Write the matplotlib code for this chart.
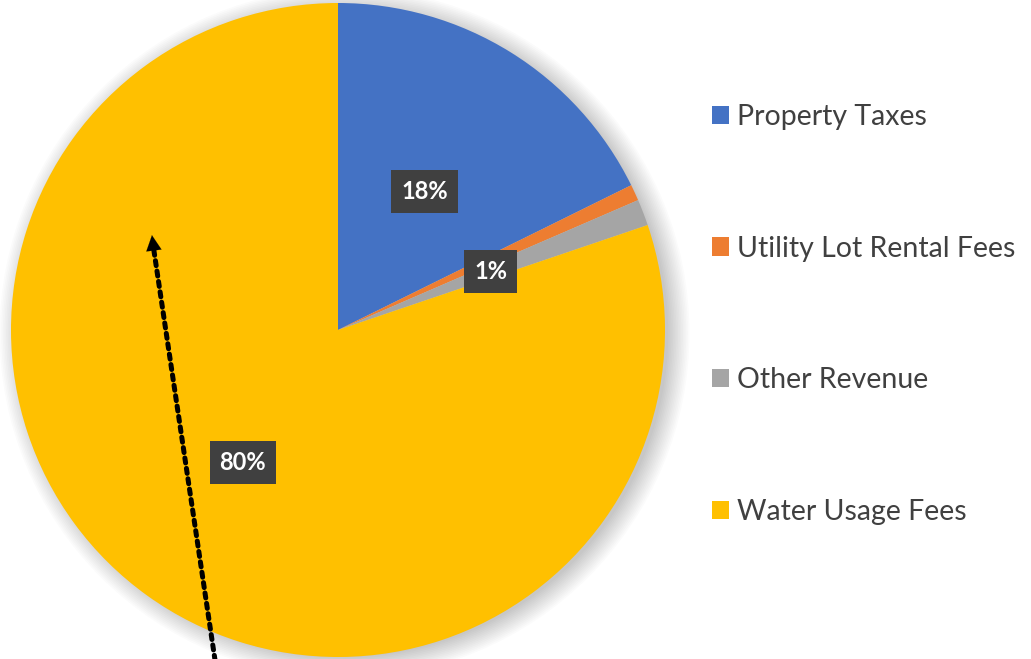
import matplotlib
matplotlib.use("Agg")
import matplotlib.pyplot as plt
from matplotlib.patches import Circle, Patch

# revenue shares
labels = ['Property Taxes', 'Utility Lot Rental Fees', 'Other Revenue', 'Water Usage Fees']
values = [17.7, 0.8, 1.3, 80.2]
colors = ['#4472C4', '#ED7D31', '#A5A5A5', '#FFC000']

plt.rcParams['font.family'] = ['Lato', 'DejaVu Sans']

fig = plt.figure(figsize=(10.31, 6.59), dpi=100)
ax = fig.add_axes([11 / 1031, 2 / 659, 654 / 1031, 654 / 659])

wedges, texts, autotexts = ax.pie(values, colors=colors, startangle=90, counterclock=False,
                                  autopct='%1.0f%%', pctdistance=0.5, radius=1.0,
                                  wedgeprops=dict(linewidth=0),
                                  textprops=dict(color='white', fontsize=17, fontweight='bold'))
ax.set_xlim(-1, 1)
ax.set_ylim(-1, 1)
ax.set_aspect('equal')
ax.axis('off')

# soft drop shadow behind the pie
for k in range(14):
    ax.add_patch(Circle((0.02, -0.01), 0.99 + k * 0.005, color='black',
                        alpha=0.016, lw=0, zorder=0, clip_on=False))
for w in wedges:
    w.set_zorder(2)

# Excel hides the overlapping label of the tiny orange slice
autotexts[1].set_visible(False)
for t in autotexts:
    t.set_zorder(5)
    t.set_bbox(dict(boxstyle='square,pad=0.42', fc='#404040', ec='none'))

# dotted arrow pointing into the water fees slice
tail = (-0.376, -1.01)
tip = (-0.569, 0.29)
ax.annotate('', xy=(-0.564, 0.25), xytext=tail,
            arrowprops=dict(arrowstyle='-', color='black', lw=3.6,
                            linestyle=(0, (1, 1.1)), shrinkA=0, shrinkB=0),
            annotation_clip=False, zorder=6)
ax.annotate('', xy=tip, xytext=(-0.56, 0.22),
            arrowprops=dict(arrowstyle='-|>,head_width=0.55,head_length=1.1', color='black',
                            lw=0.1, shrinkA=0, shrinkB=0),
            annotation_clip=False, zorder=6)

handles = [Patch(facecolor=c, edgecolor='none') for c in colors]
leg = fig.legend(handles, labels, loc='upper left', bbox_to_anchor=(686 / 1031, 1 - 78 / 659),
                 frameon=False, fontsize=20.5, labelspacing=3.72, handlelength=0.6,
                 handleheight=0.6, handletextpad=0.3, labelcolor='#404040')

fig.savefig('out.png', dpi=100)
